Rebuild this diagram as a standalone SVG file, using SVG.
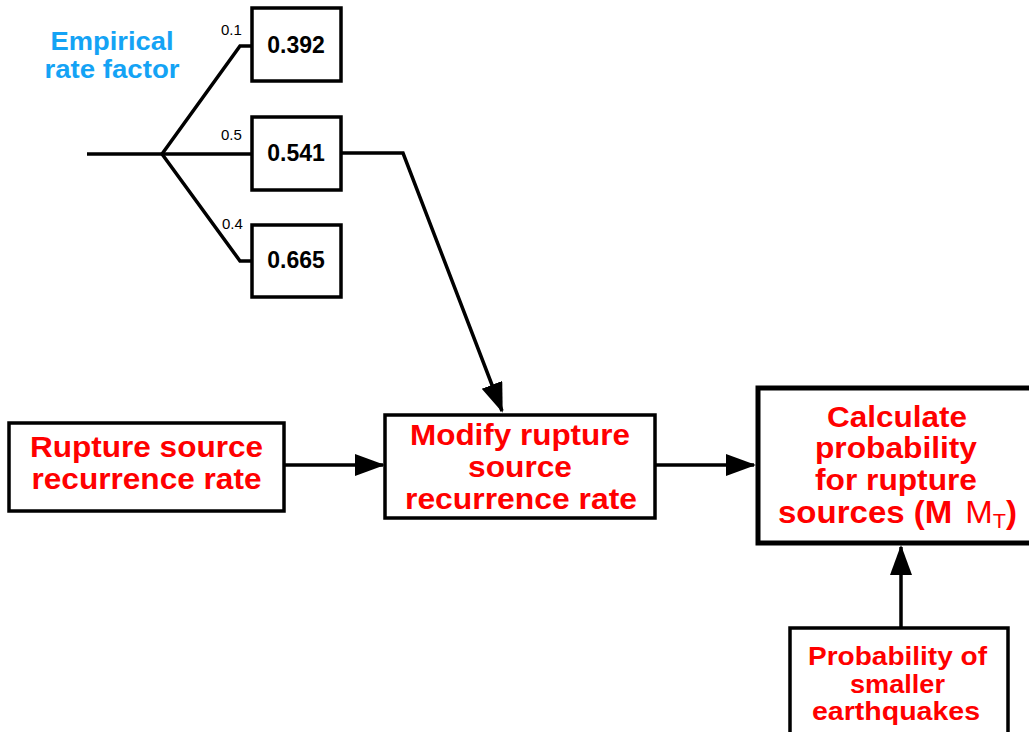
<svg xmlns="http://www.w3.org/2000/svg" width="1029" height="732" viewBox="0 0 1029 732">
<style>
.box{fill:#fff;stroke:#000;stroke-width:3.5}
.thick{fill:#fff;stroke:#000;stroke-width:5}
.ln{fill:none;stroke:#000;stroke-width:3.5;stroke-linejoin:miter}
.red{font-family:"Liberation Sans",Arial,sans-serif;font-weight:bold;fill:#ff0000;text-anchor:middle}
.num{font-family:"Liberation Sans",Arial,sans-serif;font-weight:bold;font-size:23px;fill:#000;text-anchor:middle}
.small{font-family:"Liberation Sans",Arial,sans-serif;font-size:15px;fill:#000}
.blue{font-family:"Liberation Sans",Arial,sans-serif;font-weight:bold;font-size:26px;fill:#14a3f5;text-anchor:middle}
</style>
<defs>
<marker id="ah" markerUnits="userSpaceOnUse" markerWidth="32" markerHeight="24" refX="28" refY="11" orient="auto">
<path d="M0,0 L30,11 L0,22 z" fill="#000"/>
</marker>
</defs>
<g id="tree">
<text class="blue" x="112" y="50" textLength="123" lengthAdjust="spacingAndGlyphs">Empirical</text>
<text class="blue" x="112" y="78" textLength="135" lengthAdjust="spacingAndGlyphs">rate factor</text>
<polyline class="ln" points="87,154 162,154"/>
<polyline class="ln" points="162,154 240,46 253,46"/>
<polyline class="ln" points="162,154 253,154"/>
<polyline class="ln" points="162,154 240,261 253,261"/>
<text class="small" x="221" y="35">0.1</text>
<text class="small" x="221" y="140">0.5</text>
<text class="small" x="222" y="229">0.4</text>
</g>
<g id="n392">
<rect class="box" x="252" y="8" width="89" height="73"/>
<text class="num" x="296" y="53">0.392</text>
</g>
<g id="n541">
<rect class="box" x="252" y="117" width="89" height="73"/>
<text class="num" x="296" y="161">0.541</text>
</g>
<g id="n665">
<rect class="box" x="252" y="225" width="89" height="72"/>
<text class="num" x="296" y="268">0.665</text>
</g>
<g id="rupture">
<rect class="box" x="9" y="423" width="275" height="88"/>
<text class="red" x="146.5" y="457" font-size="30" textLength="233" lengthAdjust="spacingAndGlyphs">Rupture source</text>
<text class="red" x="146.5" y="489" font-size="30" textLength="230" lengthAdjust="spacingAndGlyphs">recurrence rate</text>
</g>
<g id="modify">
<rect class="box" x="385" y="415" width="270" height="103"/>
<text class="red" x="520" y="445" font-size="30" textLength="220" lengthAdjust="spacingAndGlyphs">Modify rupture</text>
<text class="red" x="520" y="477" font-size="30" textLength="104" lengthAdjust="spacingAndGlyphs">source</text>
<text class="red" x="521" y="509" font-size="30" textLength="232" lengthAdjust="spacingAndGlyphs">recurrence rate</text>
</g>
<g id="calculate">
<rect class="thick" x="758" y="388" width="280" height="155"/>
<text class="red" x="897" y="427" font-size="29" textLength="140" lengthAdjust="spacingAndGlyphs">Calculate</text>
<text class="red" x="896" y="458" font-size="29" textLength="162" lengthAdjust="spacingAndGlyphs">probability</text>
<text class="red" x="896" y="490" font-size="29" textLength="162" lengthAdjust="spacingAndGlyphs">for rupture</text>
<text class="red" x="897.5" y="523" font-size="30.5" textLength="239" lengthAdjust="spacingAndGlyphs">sources (M<tspan dx="12" font-weight="normal">M</tspan><tspan font-weight="normal" font-size="20" dy="5">T</tspan><tspan dy="-5">)</tspan></text>
</g>
<g id="smaller">
<rect class="box" x="790" y="628" width="218" height="110"/>
<text class="red" x="897.5" y="665" font-size="25.5" textLength="179" lengthAdjust="spacingAndGlyphs">Probability of</text>
<text class="red" x="897.5" y="693" font-size="25.5" textLength="95" lengthAdjust="spacingAndGlyphs">smaller</text>
<text class="red" x="896" y="720" font-size="25.5" textLength="168" lengthAdjust="spacingAndGlyphs">earthquakes</text>
</g>
<g id="connectors">
<polyline class="ln" points="342,153 403,153 502,411" marker-end="url(#ah)"/>
<line class="ln" x1="284" y1="465" x2="383" y2="465" marker-end="url(#ah)"/>
<line class="ln" x1="655" y1="465" x2="754" y2="465" marker-end="url(#ah)"/>
<line class="ln" x1="901" y1="628" x2="901" y2="547" marker-end="url(#ah)"/>
</g>
</svg>
